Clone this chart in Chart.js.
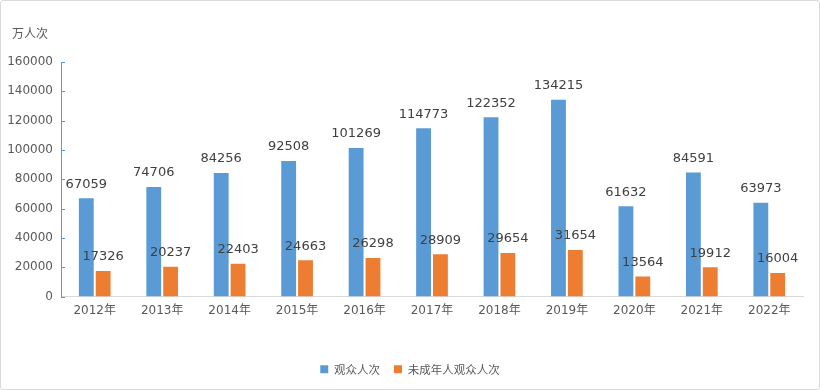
<!DOCTYPE html>
<html><head><meta charset="utf-8">
<script src="https://cdn.jsdelivr.net/npm/chart.js@4"></script>
<style>
html,body{margin:0;padding:0;background:#fff;}
#wrap{position:relative;width:820px;height:390px;box-sizing:border-box;border:1px solid #d9d9d9;border-radius:3px;}
canvas{display:block;}
</style></head><body>
<div id="wrap"><canvas id="c" width="818" height="388"></canvas></div>
<script>
const categories = ["2012年","2013年","2014年","2015年","2016年","2017年","2018年","2019年","2020年","2021年","2022年"];
const audience = [67059,74706,84256,92508,101269,114773,122352,134215,61632,84591,63973];
const minorAudience = [17326,20237,22403,24663,26298,28909,29654,31654,13564,19912,16004];
const seriesNames = ["观众人次","未成年人观众人次"];
const yTicks = [0,20000,40000,60000,80000,100000,120000,140000,160000];
const yTitle = "万人次";

const FONT = "'DejaVu Sans', 'Noto Sans CJK SC', sans-serif";

const decor = {
  id:'decor',
  afterDatasetsDraw(chart){
    const ctx = chart.ctx;
    const y = chart.scales.y;
    ctx.save();
    ctx.fillStyle = '#595959';
    ctx.font = "12px 'Noto Sans CJK SC', sans-serif";
    ctx.textAlign = 'left'; ctx.textBaseline = 'middle';
    ctx.fillText(yTitle, 11, 32);
    ctx.strokeStyle = '#5B9BD5'; ctx.lineWidth = 1;
    yTicks.forEach(v=>{
      const py = Math.round(y.getPixelForValue(v))+0.5;
      ctx.beginPath(); ctx.moveTo(chart.chartArea.left, py); ctx.lineTo(chart.chartArea.left+4, py); ctx.stroke();
    });
    ctx.fillStyle = '#404040';
    ctx.font = "13px " + FONT;
    ctx.textAlign = 'center'; ctx.textBaseline = 'middle';
    chart.data.datasets.forEach((ds,i)=>{
      const meta = chart.getDatasetMeta(i);
      meta.data.forEach((bar,j)=>{
        ctx.fillText(String(ds.data[j]), bar.x, bar.y - 14);
      });
    });
    ctx.restore();
  }
};

new Chart(document.getElementById('c'), {
  type:'bar',
  data:{
    labels: categories,
    datasets:[
      {label: seriesNames[0], data: audience, backgroundColor:'#5B9BD5', categoryPercentage:0.5, barPercentage:0.88},
      {label: seriesNames[1], data: minorAudience, backgroundColor:'#ED7D31', categoryPercentage:0.5, barPercentage:0.88}
    ]
  },
  options:{
    responsive:false, animation:false, devicePixelRatio:1,
    layout:{padding:{left:0,right:0,top:61,bottom:4}},
    plugins:{
      legend:{position:'bottom', labels:{boxWidth:8, boxHeight:8, padding:14, color:'#595959', font:{family:"'Noto Sans CJK SC', sans-serif", size:11.5}}},
      tooltip:{enabled:false}
    },
    scales:{
      x:{
        grid:{display:false, drawTicks:false},
        border:{display:true, color:'#d9d9d9'},
        ticks:{color:'#595959', padding:7, font:{family:FONT, size:12}, maxRotation:0},
        afterFit(s){ s.height = 53; }
      },
      y:{
        min:0, max:160000,
        grid:{display:false, drawTicks:false},
        border:{display:true, color:'#5B9BD5'},
        ticks:{stepSize:20000, color:'#595959', padding:8, font:{family:FONT, size:12}, callback:(v)=>String(v)},
        afterFit(s){ s.width = 60; }
      },
      yPad:{
        position:'right', display:true,
        grid:{display:false, drawTicks:false},
        border:{display:false},
        ticks:{display:false},
        afterFit(s){ s.width = 16; }
      }
    }
  },
  plugins:[decor]
});
</script>
</body></html>
